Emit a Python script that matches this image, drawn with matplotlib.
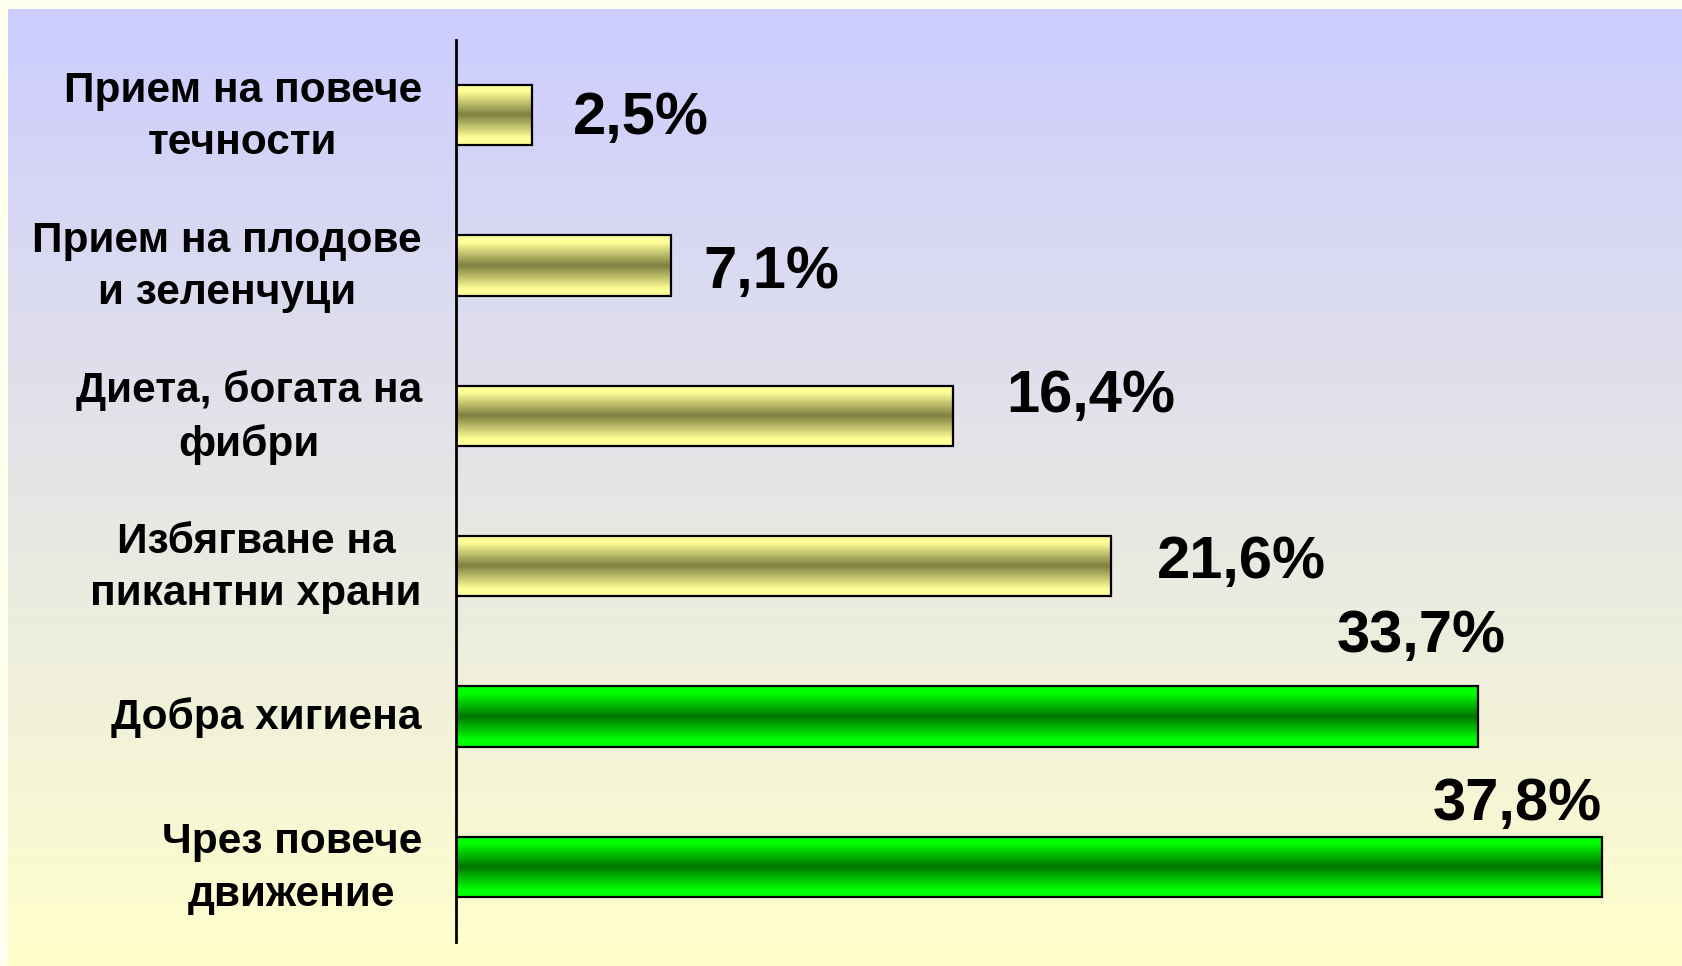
import matplotlib.pyplot as plt
import numpy as np
from matplotlib.colors import LinearSegmentedColormap
from matplotlib.transforms import ScaledTranslation

plt.rcParams['font.family'] = ['Liberation Sans', 'DejaVu Sans']

# data
categories = ['Прием на повече\nтечности',
              'Прием на плодове\nи зеленчуци',
              'Диета, богата на\nфибри',
              'Избягване на\nпикантни храни',
              'Добра хигиена',
              'Чрез повече\nдвижение']
values = [2.5, 7.1, 16.4, 21.6, 33.7, 37.8]
value_labels = ['2,5%', '7,1%', '16,4%', '21,6%', '33,7%', '37,8%']
bar_group = ['yellow', 'yellow', 'yellow', 'yellow', 'green', 'green']

# where the value labels were dragged to (offset from bar end / bar centre, data units)
label_dx = [1.36, 1.05, 1.74, 1.52, -4.64, -5.58]
label_dy = [0.127, 0.147, -0.027, 0.08, -0.427, -0.313]

gradients = {
    'yellow': ((1.0, 1.0, 0.6), (0.5, 0.5, 0.25)),
    'green': ((0.0, 1.0, 0.0), (0.0, 0.46, 0.0)),
}

W, H = 1682, 966
fig = plt.figure(figsize=(W / 100, H / 100), dpi=100)
fig.patch.set_facecolor('#FEFEEC')

# background panel, blue at top to pale yellow at bottom
bg = fig.add_axes([8 / W, 0, 1 - 8 / W, 1 - 9 / H])
bg_cmap = LinearSegmentedColormap.from_list('bg', ['#CCCCFF', '#FFFFCC'])
bg.imshow(np.linspace(0, 1, 256).reshape(-1, 1), aspect='auto', cmap=bg_cmap,
          extent=[0, 1, 0, 1], origin='upper')
bg.set_axis_off()

ax = fig.add_axes([456 / W, 1 - 942 / H, (1665 - 456) / W, (942 - 40) / H])
ax.patch.set_alpha(0)

y = np.arange(len(categories))
bars = ax.barh(y, values, height=0.4, facecolor='none', edgecolor='black',
               linewidth=1.6, zorder=3)

t = np.linspace(0, 1, 200)
f = np.clip(1 - np.abs(t - 0.5) / 0.38, 0, 1)
for b, g in zip(bars, bar_group):
    bright, dark = np.array(gradients[g][0]), np.array(gradients[g][1])
    img = bright[None, :] + (dark - bright)[None, :] * f[:, None]
    x0, y0 = b.get_x(), b.get_y()
    w, h = b.get_width(), b.get_height()
    im = ax.imshow(img[:, None, :], aspect='auto', extent=[x0, x0 + w, y0 + h, y0],
                   zorder=2, interpolation='bilinear')
    im.set_clip_path(b)

for i, v in enumerate(values):
    ax.text(v + label_dx[i], y[i] + label_dy[i], value_labels[i],
            fontsize=43, fontweight='bold', ha='left', va='baseline', zorder=4)

ax.set_xlim(0, (1665 - 456) / 30.32)
ax.set_ylim(len(categories) - 0.5, -0.5)
ax.set_yticks(y)
ax.set_yticklabels(categories, fontsize=30.5, fontweight='bold',
                   multialignment='center', linespacing=1.4)
ax.tick_params(axis='y', length=0, pad=24.5)
# two-line labels sit a little higher in the original
for lbl in ax.get_yticklabels():
    if '\n' in lbl.get_text():
        lbl.set_transform(lbl.get_transform() + ScaledTranslation(0, 0.09, fig.dpi_scale_trans))
    else:
        lbl.set_transform(lbl.get_transform() + ScaledTranslation(0, 0.03, fig.dpi_scale_trans))
ax.set_xticks([])
for s in ['top', 'right', 'bottom']:
    ax.spines[s].set_visible(False)
ax.spines['left'].set_linewidth(2)

fig.savefig('out.png', dpi=100, facecolor=fig.get_facecolor())
